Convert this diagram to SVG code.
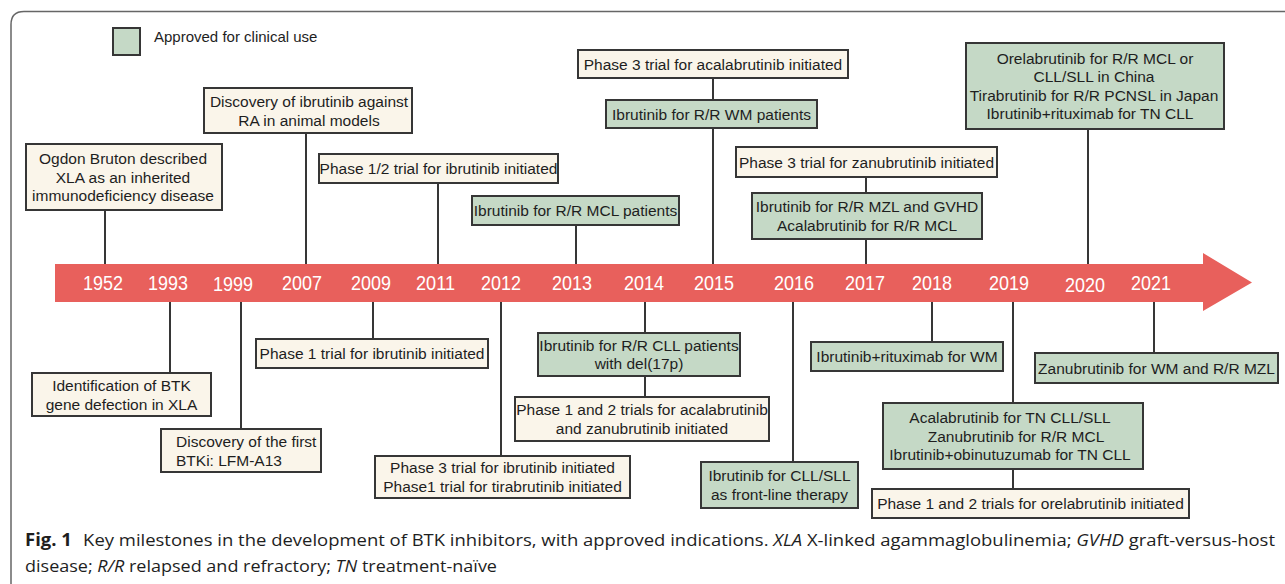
<svg xmlns="http://www.w3.org/2000/svg" width="1285" height="584" viewBox="0 0 1285 584">
<style>
.bx{stroke:#363636;stroke-width:2}
.tr{fill:#faf5ea}
.ap{fill:#c5d9c6}
.t{font-family:"Liberation Sans",Arial,sans-serif;font-size:15.5px;fill:#1e1e1e;text-anchor:middle}
.tl{text-anchor:start}
.yr{font-family:"Liberation Sans",Arial,sans-serif;font-size:20px;fill:#ffffff}
.cn line{stroke:#363636;stroke-width:2}
.cap{font-family:"Open Sans","Liberation Sans",sans-serif;font-size:17px;fill:#1e1e1e}
</style>
<rect width="1285" height="584" fill="#ffffff"/>
<path d="M1290 11.5 H24 Q11 11.5 11 24.5 V590" fill="none" stroke="#666" stroke-width="1.5"/>
<g id="legend">
<rect class="bx ap" x="113" y="28" width="27" height="27"/>
<text class="t tl" x="154" y="42" style="font-size:15px">Approved for clinical use</text>
</g>
<g id="timeline">
<path d="M55 264 H1203 V253 L1252 282.5 L1203 311 V302 H55 Z" fill="#e8605c"/>
<g class="yr">
<text x="83" y="289.5" textLength="40" lengthAdjust="spacingAndGlyphs">1952</text>
<text x="148" y="289.5" textLength="40" lengthAdjust="spacingAndGlyphs">1993</text>
<text x="213" y="291" textLength="40" lengthAdjust="spacingAndGlyphs">1999</text>
<text x="282" y="289.5" textLength="40" lengthAdjust="spacingAndGlyphs">2007</text>
<text x="351" y="289.5" textLength="40" lengthAdjust="spacingAndGlyphs">2009</text>
<text x="416" y="289.5" textLength="39" lengthAdjust="spacingAndGlyphs">2011</text>
<text x="481" y="289.5" textLength="40" lengthAdjust="spacingAndGlyphs">2012</text>
<text x="552" y="289.5" textLength="40" lengthAdjust="spacingAndGlyphs">2013</text>
<text x="624" y="289.5" textLength="40" lengthAdjust="spacingAndGlyphs">2014</text>
<text x="694" y="289.5" textLength="40" lengthAdjust="spacingAndGlyphs">2015</text>
<text x="774" y="289.5" textLength="40" lengthAdjust="spacingAndGlyphs">2016</text>
<text x="845" y="289.5" textLength="40" lengthAdjust="spacingAndGlyphs">2017</text>
<text x="912" y="289.5" textLength="40" lengthAdjust="spacingAndGlyphs">2018</text>
<text x="989" y="289.5" textLength="40" lengthAdjust="spacingAndGlyphs">2019</text>
<text x="1065" y="291.5" textLength="40" lengthAdjust="spacingAndGlyphs">2020</text>
<text x="1131" y="289.5" textLength="40" lengthAdjust="spacingAndGlyphs">2021</text>
</g>
</g>
<g id="connectors" class="cn">
<line x1="105" y1="210" x2="105" y2="264"/>
<line x1="306" y1="133" x2="306" y2="264"/>
<line x1="438" y1="183" x2="438" y2="264"/>
<line x1="713" y1="78" x2="713" y2="100"/>
<line x1="713" y1="128" x2="713" y2="264"/>
<line x1="576" y1="225" x2="576" y2="264"/>
<line x1="866" y1="177" x2="866" y2="193"/>
<line x1="866" y1="239" x2="866" y2="264"/>
<line x1="1088" y1="129" x2="1088" y2="264"/>
<line x1="170" y1="302" x2="170" y2="373"/>
<line x1="241" y1="302" x2="241" y2="429"/>
<line x1="373" y1="302" x2="373" y2="339"/>
<line x1="501" y1="302" x2="501" y2="456"/>
<line x1="645" y1="302" x2="645" y2="333"/>
<line x1="645" y1="376" x2="645" y2="397"/>
<line x1="793" y1="302" x2="793" y2="462"/>
<line x1="932" y1="302" x2="932" y2="342"/>
<line x1="1013" y1="302" x2="1013" y2="403"/>
<line x1="1013" y1="469" x2="1013" y2="489"/>
<line x1="1154" y1="302" x2="1154" y2="353"/>
</g>
<g id="n1952">
<rect class="bx tr" x="26" y="144" width="196" height="66"/>
<text class="t" x="123" y="164">Ogdon Bruton described</text>
<text class="t" x="123" y="182.5">XLA as an inherited</text>
<text class="t" x="123" y="201">immunodeficiency disease</text>
</g>
<g id="n2007">
<rect class="bx tr" x="204" y="88" width="208" height="45"/>
<text class="t" x="309" y="107">Discovery of ibrutinib against</text>
<text class="t" x="309" y="125.5">RA in animal models</text>
</g>
<g id="n2011">
<rect class="bx tr" x="319" y="154" width="239" height="29"/>
<text class="t" x="438.5" y="174">Phase 1/2 trial for ibrutinib initiated</text>
</g>
<g id="n2015a">
<rect class="bx tr" x="578" y="50" width="270" height="28"/>
<text class="t" x="713" y="69.5">Phase 3 trial for acalabrutinib initiated</text>
</g>
<g id="n2015b">
<rect class="bx ap" x="606" y="100" width="211" height="28"/>
<text class="t" x="711.5" y="119.5">Ibrutinib for R/R WM patients</text>
</g>
<g id="n2013">
<rect class="bx ap" x="472" y="196" width="207" height="29"/>
<text class="t" x="575.5" y="216">Ibrutinib for R/R MCL patients</text>
</g>
<g id="n2017a">
<rect class="bx tr" x="736" y="147" width="261" height="30"/>
<text class="t" x="866.5" y="167.5">Phase 3 trial for zanubrutinib initiated</text>
</g>
<g id="n2017b">
<rect class="bx ap" x="752" y="193" width="230" height="46"/>
<text class="t" x="867" y="212">Ibrutinib for R/R MZL and GVHD</text>
<text class="t" x="867" y="230.5">Acalabrutinib for R/R MCL</text>
</g>
<g id="n2020">
<rect class="bx ap" x="966" y="43" width="258" height="86"/>
<text class="t" x="1095" y="64">Orelabrutinib for R/R MCL or</text>
<text class="t" x="1094" y="82">CLL/SLL in China</text>
<text class="t" x="1094" y="100.5">Tirabrutinib for R/R PCNSL in Japan</text>
<text class="t" x="1090" y="119">Ibrutinib+rituximab for TN CLL</text>
</g>
<g id="n1993">
<rect class="bx tr" x="32" y="373" width="179" height="43"/>
<text class="t" x="121.5" y="391">Identification of BTK</text>
<text class="t" x="121.5" y="409.5">gene defection in XLA</text>
</g>
<g id="n1999">
<rect class="bx tr" x="161" y="429" width="160" height="43"/>
<text class="t tl" x="176" y="447">Discovery of the first</text>
<text class="t tl" x="176" y="465.5">BTKi: LFM-A13</text>
</g>
<g id="n2009">
<rect class="bx tr" x="256" y="339" width="232" height="29"/>
<text class="t" x="372" y="359">Phase 1 trial for ibrutinib initiated</text>
</g>
<g id="n2012">
<rect class="bx tr" x="375" y="456" width="255" height="42"/>
<text class="t" x="502.5" y="473">Phase 3 trial for ibrutinib initiated</text>
<text class="t" x="502.5" y="491.5">Phase1 trial for tirabrutinib initiated</text>
</g>
<g id="n2014a">
<rect class="bx ap" x="538" y="333" width="202" height="43"/>
<text class="t" x="639" y="350.5">Ibrutinib for R/R CLL patients</text>
<text class="t" x="639" y="369">with del(17p)</text>
</g>
<g id="n2014b">
<rect class="bx tr" x="515" y="397" width="254" height="44"/>
<text class="t" x="642" y="415">Phase 1 and 2 trials for acalabrutinib</text>
<text class="t" x="642" y="433.5">and zanubrutinib initiated</text>
</g>
<g id="n2016">
<rect class="bx ap" x="701" y="462" width="157" height="46"/>
<text class="t" x="779.5" y="481">Ibrutinib for CLL/SLL</text>
<text class="t" x="779.5" y="499.5">as front-line therapy</text>
</g>
<g id="n2018">
<rect class="bx ap" x="811" y="342" width="192" height="29"/>
<text class="t" x="907" y="362">Ibrutinib+rituximab for WM</text>
</g>
<g id="n2019a">
<rect class="bx ap" x="883" y="403" width="260" height="66"/>
<text class="t" x="1010" y="423">Acalabrutinib for TN CLL/SLL</text>
<text class="t" x="1016" y="441.5">Zanubrutinib for R/R MCL</text>
<text class="t" x="1010" y="460">Ibrutinib+obinutuzumab for TN CLL</text>
</g>
<g id="n2019b">
<rect class="bx tr" x="872" y="489" width="317" height="29"/>
<text class="t" x="1030.5" y="509">Phase 1 and 2 trials for orelabrutinib initiated</text>
</g>
<g id="n2021">
<rect class="bx ap" x="1035" y="353" width="243" height="30"/>
<text class="t" x="1156.5" y="373.5">Zanubrutinib for WM and R/R MZL</text>
</g>
<g id="caption">
<text class="cap" x="25" y="546" textLength="1250" lengthAdjust="spacingAndGlyphs"><tspan font-weight="bold">Fig. 1</tspan><tspan dx="6"> Key milestones in the development of BTK inhibitors, with approved indications. </tspan><tspan font-style="italic">XLA</tspan> X-linked agammaglobulinemia; <tspan font-style="italic">GVHD</tspan> graft-versus-host</text>
<text class="cap" x="25" y="572" textLength="472" lengthAdjust="spacingAndGlyphs">disease; <tspan font-style="italic">R/R</tspan> relapsed and refractory; <tspan font-style="italic">TN</tspan> treatment-naïve</text>
</g>
</svg>
